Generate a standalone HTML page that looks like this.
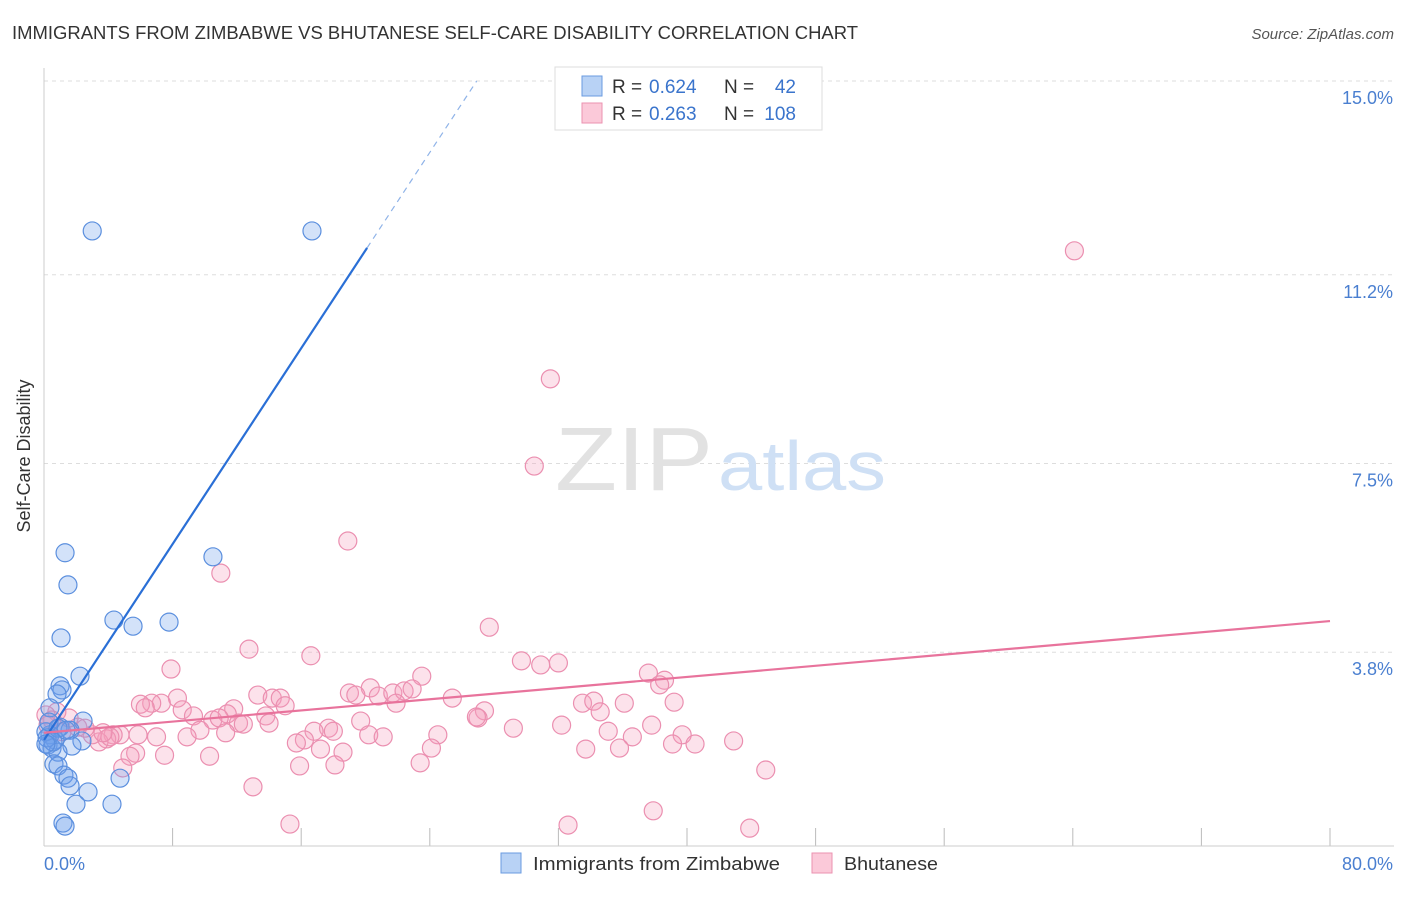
<!DOCTYPE html>
<html><head><meta charset="utf-8"><style>
body{margin:0;background:#fff;font-family:"Liberation Sans",sans-serif}
svg text{font-family:"Liberation Sans",sans-serif}
</style></head><body>
<svg id="chart" width="1406" height="892" viewBox="0 0 1406 892" xmlns="http://www.w3.org/2000/svg">
<text x="12" y="39" font-size="18" fill="#333" textLength="846" lengthAdjust="spacingAndGlyphs">IMMIGRANTS FROM ZIMBABWE VS BHUTANESE SELF-CARE DISABILITY CORRELATION CHART</text>
<text x="1394" y="39" font-size="15" fill="#555" font-style="italic" text-anchor="end">Source: ZipAtlas.com</text>
<g id="grid"></g>
<line x1="44" y1="68" x2="44" y2="846" stroke="#ccc"/>
<line x1="44" y1="846" x2="1394" y2="846" stroke="#ccc"/>
<text x="555" y="490" font-size="90" fill="#e2e2e2" font-family="Liberation Serif" textLength="158" lengthAdjust="spacingAndGlyphs">ZIP</text>
<text x="718" y="490" font-size="70" fill="#cfe0f5" textLength="168" lengthAdjust="spacingAndGlyphs">atlas</text>
<text x="30" y="456" font-size="18" fill="#333" text-anchor="middle" transform="rotate(-90 30 456)">Self-Care Disability</text>
<g id="ylabels"></g>
<text x="44" y="870" font-size="18" fill="#4a7fd0">0.0%</text>
<text x="1393" y="870" font-size="18" fill="#4a7fd0" text-anchor="end">80.0%</text>
<g id="pink"></g>
<g id="blue"></g>
<g id="lines"></g>
<g>
<rect x="555" y="67" width="267" height="63" fill="#fff" stroke="#ddd"/>
<rect x="582" y="76" width="20" height="20" fill="#b8d2f5" stroke="#6a9be0"/>
<rect x="582" y="103" width="20" height="20" fill="#fbc9d9" stroke="#eb92b0"/>
<text x="612" y="93" font-size="19" fill="#333">R =</text>
<text x="649" y="93" font-size="19" fill="#3a74cc">0.624</text>
<text x="724" y="93" font-size="19" fill="#333">N =</text>
<text x="796" y="93" font-size="19" fill="#3a74cc" text-anchor="end">42</text>
<text x="612" y="120" font-size="19" fill="#333">R =</text>
<text x="649" y="120" font-size="19" fill="#3a74cc">0.263</text>
<text x="724" y="120" font-size="19" fill="#333">N =</text>
<text x="796" y="120" font-size="19" fill="#3a74cc" text-anchor="end">108</text>
</g>
<g>
<rect x="501" y="853" width="20" height="20" fill="#b8d2f5" stroke="#6a9be0"/>
<text x="533" y="870" font-size="18" fill="#333" textLength="247" lengthAdjust="spacingAndGlyphs">Immigrants from Zimbabwe</text>
<rect x="812" y="853" width="20" height="20" fill="#fbc9d9" stroke="#eb92b0"/>
<text x="844" y="870" font-size="18" fill="#333" textLength="94" lengthAdjust="spacingAndGlyphs">Bhutanese</text>
</g>
</svg>
<script>
const yTicks=[3.8,7.5,11.2,15.0];
const yTickLabels=["3.8%","7.5%","11.2%","15.0%"];
const xTicks=[0,8,16,24,32,40,48,56,64,72,80];
const blueX=[3.0,16.67,1.31,1.49,10.51,1.06,4.35,5.54,7.78,2.24,1.0,1.12,0.81,0.37,2.43,1.0,1.62,0.37,0.68,2.36,1.74,0.25,0.5,0.87,0.62,0.87,1.24,1.49,4.73,1.62,2.74,1.99,4.23,1.18,1.31,0.12,0.19,0.31,0.87,1.37,0.56,0.12];
const blueY=[12.06,12.06,5.75,5.12,5.67,4.08,4.43,4.31,4.39,3.33,3.14,3.06,2.98,2.71,2.45,2.33,2.27,2.18,2.08,2.06,1.96,1.98,1.92,1.84,1.61,1.57,1.39,1.33,1.33,1.18,1.06,0.82,0.82,0.45,0.39,2.24,2.12,2.43,2.31,2.27,2.04,2.0];
const pinkX=[64.1,31.5,30.5,18.9,11.0,27.7,29.7,30.9,32.0,37.6,38.6,38.3,12.75,16.6,7.9,23.5,20.3,19.0,19.4,20.8,21.7,22.4,22.9,21.9,25.4,13.3,14.2,14.7,15.0,8.3,7.3,6.7,6.0,6.3,8.6,9.3,11.8,11.4,10.5,10.9,12.1,12.4,13.8,14.0,9.7,8.9,7.0,5.85,4.73,4.3,3.9,3.42,3.0,2.1,1.56,0.8,0.5,19.7,17.7,18.0,16.8,16.2,15.7,17.2,18.6,20.2,21.1,24.5,24.1,23.4,18.1,15.9,10.3,7.5,5.7,5.35,4.9,13.0,15.3,27.4,27.0,26.9,29.2,33.5,34.2,34.6,36.1,39.2,32.2,35.1,37.8,36.6,39.7,33.7,35.8,39.1,40.5,42.9,44.9,32.6,37.9,43.9,0.12,0.25,1.12,2.55,4.1,3.67,11.3];
const pinkY=[11.67,9.16,7.45,5.98,5.35,4.29,3.63,3.55,3.59,3.39,3.25,3.16,3.86,3.73,3.47,3.33,3.1,3.0,2.96,2.94,3.0,3.04,3.08,2.8,2.9,2.96,2.9,2.9,2.75,2.9,2.8,2.8,2.78,2.71,2.67,2.55,2.69,2.59,2.47,2.51,2.41,2.39,2.55,2.41,2.27,2.14,2.14,2.18,2.18,2.18,2.1,2.04,2.18,2.33,2.51,2.63,2.47,2.45,2.31,2.25,2.25,2.08,2.02,1.9,1.84,2.18,2.14,2.18,1.92,1.63,1.59,1.57,1.76,1.78,1.82,1.76,1.53,1.16,0.43,2.65,2.51,2.53,2.31,2.8,2.84,2.63,2.8,2.82,2.37,2.25,2.37,2.14,2.18,1.9,1.92,2.0,2.0,2.06,1.49,0.41,0.69,0.35,2.57,2.37,2.24,2.31,2.14,2.22,2.22];
const blueTrend=[2.08,0.48];
const pinkTrend=[2.22,4.41];
const sx=v=>44+v*(1286/80);
const sy=v=>846-v*51;
const NS="http://www.w3.org/2000/svg";
function mk(tag,attrs,parent){const e=document.createElementNS(NS,tag);for(const k in attrs)e.setAttribute(k,attrs[k]);parent.appendChild(e);return e;}
const grid=document.getElementById('grid'),yl=document.getElementById('ylabels');
yTicks.forEach((t,i)=>{
 const l=mk('line',{x1:44,x2:1394,y1:sy(t),y2:sy(t),stroke:'#ddd','stroke-dasharray':'4,4'},grid);
 
 
 const tx=mk('text',{x:1393,y:sy(t)+23,'font-size':18,fill:'#4a7fd0','text-anchor':'end'},yl);
 tx.textContent=yTickLabels[i];
 
 
});
xTicks.forEach(t=>{
 if(t===0)return;
 const l=mk('line',{x1:sx(t),x2:sx(t),y1:828,y2:846,stroke:'#bbb'},grid);
 
 
});
const pg=document.getElementById('pink');
pinkX.forEach((x,i)=>{
 const c=mk('circle',{cx:sx(x),cy:sy(pinkY[i]),r:9,fill:'rgba(244,160,190,0.3)',stroke:'#eb8fb0','stroke-width':1.2},pg);
 
 
});
const bg=document.getElementById('blue');
blueX.forEach((x,i)=>{
 const c=mk('circle',{cx:sx(x),cy:sy(blueY[i]),r:9,fill:'rgba(110,160,235,0.3)',stroke:'#5b8fde','stroke-width':1.2},bg);
 
 
});
const lg=document.getElementById('lines');
const bx1=20.1,bx2=(15-blueTrend[0])/blueTrend[1];
const b1=mk('line',{x1:sx(0),y1:sy(blueTrend[0]),x2:sx(bx1),y2:sy(blueTrend[0]+blueTrend[1]*bx1),stroke:'#2a6fd6','stroke-width':2.2},lg);


const b2=mk('line',{x1:sx(bx1),y1:sy(blueTrend[0]+blueTrend[1]*bx1),x2:sx(bx2),y2:sy(15),stroke:'#8fb3e8','stroke-width':1.2,'stroke-dasharray':'6,5'},lg);


const p1=mk('line',{x1:sx(0),y1:sy(pinkTrend[0]),x2:sx(80),y2:sy(pinkTrend[1]),stroke:'#e8739c','stroke-width':2.2},lg);


</script>
</body></html>
